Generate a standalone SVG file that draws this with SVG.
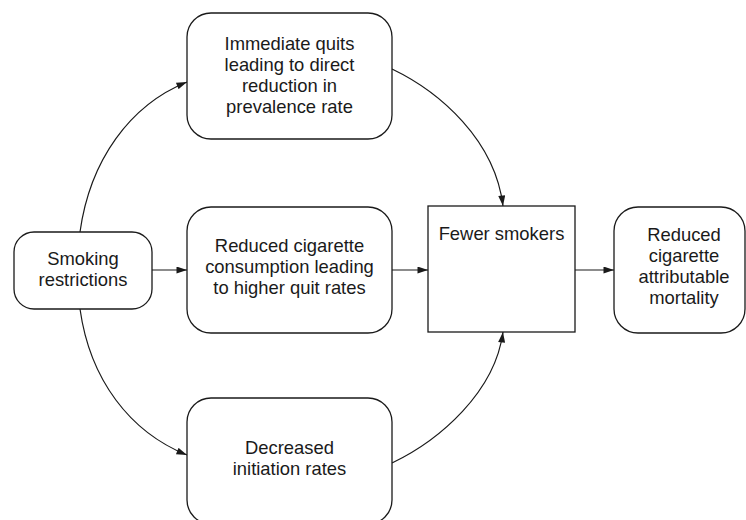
<svg xmlns="http://www.w3.org/2000/svg" width="746" height="520" viewBox="0 0 746 520">
  <style>
    .box { fill: #ffffff; stroke: #1a1a1a; stroke-width: 1.3; }
    .lbl { font-family: "Liberation Sans", Arial, Helvetica, sans-serif; font-size: 18.4px; fill: #1a1a1a; text-anchor: middle; }
    .conn { fill: none; stroke: #1a1a1a; stroke-width: 1.2; }
  </style>
  <defs>
    <marker id="arrow" viewBox="0 0 12 8" refX="12" refY="4" markerWidth="12" markerHeight="7" markerUnits="userSpaceOnUse" orient="auto">
      <path d="M0,0 L12,4 L0,8 Z" fill="#1a1a1a"/>
    </marker>
  </defs>
  <rect width="746" height="520" fill="#ffffff"/>

  <g id="connectors">
    <path class="conn" d="M152,270 L187,270" marker-end="url(#arrow)"/>
    <path class="conn" d="M392,270 L428,270" marker-end="url(#arrow)"/>
    <path class="conn" d="M575,270 L614,270" marker-end="url(#arrow)"/>
    <path class="conn" d="M80,232 C90,160 130,105 187,82" marker-end="url(#arrow)"/>
    <path class="conn" d="M80,309 C90,380 130,432 187,455" marker-end="url(#arrow)"/>
    <path class="conn" d="M392,69 C440,92 495,140 503,206" marker-end="url(#arrow)"/>
    <path class="conn" d="M392,463 C440,440 495,392 503,332" marker-end="url(#arrow)"/>
  </g>

  <g id="smoking-restrictions">
    <rect class="box" x="14" y="232" width="138" height="77" rx="20" ry="20"/>
    <text class="lbl" x="83" y="265">Smoking</text>
    <text class="lbl" x="83" y="286">restrictions</text>
  </g>

  <g id="immediate-quits">
    <rect class="box" x="187" y="13" width="205" height="126" rx="24" ry="24"/>
    <text class="lbl" x="289.5" y="50">Immediate quits</text>
    <text class="lbl" x="289.5" y="71">leading to direct</text>
    <text class="lbl" x="289.5" y="92">reduction in</text>
    <text class="lbl" x="289.5" y="113">prevalence rate</text>
  </g>

  <g id="reduced-consumption">
    <rect class="box" x="187" y="207" width="205" height="126" rx="24" ry="24"/>
    <text class="lbl" x="289.5" y="252">Reduced cigarette</text>
    <text class="lbl" x="289.5" y="273">consumption leading</text>
    <text class="lbl" x="289.5" y="294">to higher quit rates</text>
  </g>

  <g id="decreased-initiation">
    <rect class="box" x="187" y="398" width="205" height="126" rx="24" ry="24"/>
    <text class="lbl" x="289.5" y="454">Decreased</text>
    <text class="lbl" x="289.5" y="475">initiation rates</text>
  </g>

  <g id="fewer-smokers">
    <rect class="box" x="428" y="206" width="147" height="126"/>
    <text class="lbl" x="501.5" y="240">Fewer smokers</text>
  </g>

  <g id="reduced-mortality">
    <rect class="box" x="614" y="207" width="131" height="126" rx="24" ry="24"/>
    <text class="lbl" x="684" y="241">Reduced</text>
    <text class="lbl" x="684" y="262">cigarette</text>
    <text class="lbl" x="684" y="283">attributable</text>
    <text class="lbl" x="684" y="304">mortality</text>
  </g>
</svg>
